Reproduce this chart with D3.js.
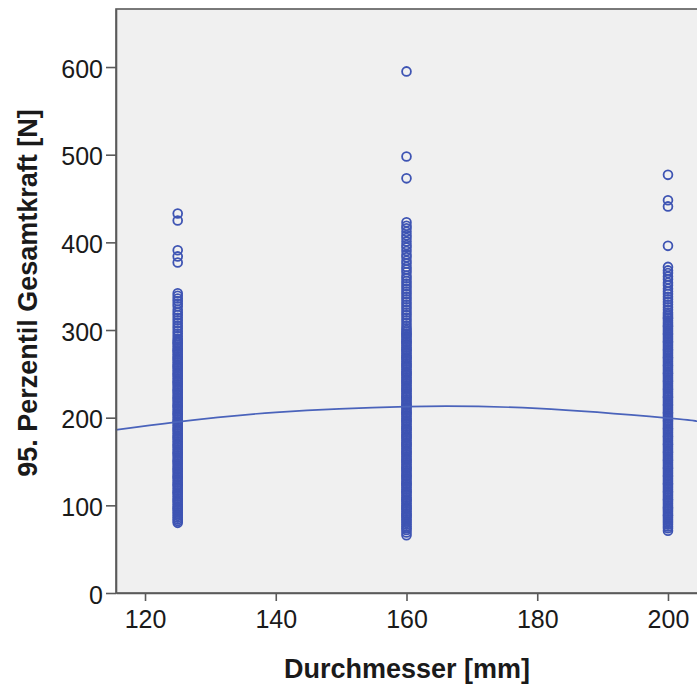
<!DOCTYPE html>
<html>
<head>
<meta charset="utf-8">
<script src="https://cdn.jsdelivr.net/npm/d3@7"></script>
<style>
  body { margin: 0; background: #fff; }
  text { font-family: "Liberation Sans", Arial, sans-serif; fill: #1a1a1a; }
</style>
</head>
<body>
<script>
// values, one list per diameter (top to bottom)
var diameters = [125, 160, 200];
var kraft125 = [433, 425, 391, 384, 377,
  342, 339, 336, 333, 330, 327, 323, 320, 317, 314, 311, 308, 305, 302, 299, 296, 293,
  290, 288, 286, 285, 283, 281, 279, 277, 276, 274, 272, 270, 268, 267, 265, 263, 261, 259, 258, 256,
  254, 252, 250, 249, 247, 245, 243, 241, 240, 238, 236, 234, 232, 231, 229, 227, 225, 223, 222, 220,
  218, 216, 214, 213, 211, 209, 207, 205, 204, 202, 200, 198, 196, 195, 193, 191, 189, 187, 186, 184,
  182, 180, 178, 177, 175, 173, 171, 169, 168, 166, 164, 162, 160, 159, 157, 155, 153, 151, 150, 148,
  146, 144, 142, 141, 139, 137, 135, 133, 132, 130, 128, 126, 124, 123, 121, 119, 117, 115, 114, 112,
  110, 108, 106, 105, 103, 101, 99, 97, 96, 94, 92, 90, 88, 86, 84, 82, 80];
var kraft160 = [595, 498, 473,
  423, 419, 416, 412, 408, 405, 401, 397, 394, 390, 386, 383, 379, 376, 372, 369, 366, 362,
  359, 356, 353, 350, 347, 344, 341, 338, 335, 332, 329, 326, 323, 320, 317, 314, 311, 308, 305, 302,
  300, 298, 296, 295, 293, 291, 289, 287, 286, 284, 282, 280, 278, 277, 275, 273, 271, 269, 268, 266,
  264, 262, 260, 259, 257, 255, 253, 251, 250, 248, 246, 244, 242, 241, 239, 237, 235, 233, 232, 230,
  228, 226, 224, 223, 221, 219, 217, 215, 214, 212, 210, 208, 206, 205, 203, 201, 199, 197, 196, 194,
  192, 190, 188, 187, 185, 183, 181, 179, 178, 176, 174, 172, 170, 169, 167, 165, 163, 161, 160, 158,
  156, 154, 152, 151, 149, 147, 145, 143, 142, 140, 138, 136, 134, 133, 131, 129, 127, 125, 124, 122,
  120, 118, 116, 115, 113, 111, 109, 107, 106, 104, 102, 100, 98, 97, 95, 93, 91, 89, 88, 86,
  84, 82, 80, 78, 76, 74, 72, 69, 66];
var kraft200 = [477, 448, 441, 396,
  372, 368, 365, 361, 358, 354, 351, 347, 344, 341, 338, 335, 332, 329, 326, 323, 320,
  318, 316, 314, 313, 311, 309, 307, 305, 304, 302, 300, 298, 296, 295, 293, 291, 289, 287, 286, 284,
  282, 280, 278, 277, 275, 273, 271, 269, 268, 266, 264, 262, 260, 259, 257, 255, 253, 251, 250, 248,
  246, 244, 242, 241, 239, 237, 235, 233, 232, 230, 228, 226, 224, 223, 221, 219, 217, 215, 214, 212,
  210, 208, 206, 205, 203, 201, 199, 197, 196, 194, 192, 190, 188, 187, 185, 183, 181, 179, 178, 176,
  174, 172, 170, 169, 167, 165, 163, 161, 160, 158, 156, 154, 152, 151, 149, 147, 145, 143, 142, 140,
  138, 136, 134, 133, 131, 129, 127, 125, 124, 122, 120, 118, 116, 115, 113, 111, 109, 107, 106, 104,
  102, 100, 98, 97, 95, 93, 91, 89, 88, 86, 84, 82, 80, 78, 76, 74, 71];
// quadratic fit line, read at a few diameters
var fitX = [115.5, 125, 140, 160, 180, 200, 204.5];
var fitY = [186, 195.2, 206.1, 212.7, 210.5, 199.4, 195.8];
var xTicks = [120, 140, 160, 180, 200];
var yTicks = [0, 100, 200, 300, 400, 500, 600];

var W = 697, H = 686;
var plotL = 116, plotT = 9, plotB = 593, plotR = 697;

var svg = d3.select("body").append("svg")
  .attr("width", W)
  .attr("height", H);

var x = d3.scaleLinear().domain([115.56, 204.44]).range([plotL, plotR]);
var y = d3.scaleLinear().domain([0, 666.2]).range([plotB, plotT]);

// plot background
svg.append("rect")
  .attr("x", plotL).attr("y", plotT)
  .attr("width", plotR - plotL + 5).attr("height", plotB - plotT)
  .attr("fill", "#f0f0f0")
  .attr("stroke", "#5a5a5a")
  .attr("stroke-width", 1.6);

var points = [];
[kraft125, kraft160, kraft200].forEach(function(list, i) {
  list.forEach(function(v) { points.push({ d: diameters[i], v: v }); });
});

svg.append("g").selectAll("circle")
  .data(points)
  .enter()
  .append("circle")
  .attr("cx", function(p) { return x(p.d); })
  .attr("cy", function(p) { return y(p.v); })
  .attr("r", 4.4)
  .attr("fill", "none")
  .attr("stroke", "#3e54b3")
  .attr("stroke-width", 1.8);

var fit = fitX.map(function(d, i) { return [d, fitY[i]]; });
svg.append("path")
  .datum(fit)
  .attr("fill", "none")
  .attr("stroke", "#4a63bb")
  .attr("stroke-width", 1.7)
  .attr("d", d3.line()
    .x(function(p) { return x(p[0]); })
    .y(function(p) { return y(p[1]); })
    .curve(d3.curveNatural));

var xAxis = svg.append("g")
  .attr("transform", "translate(0," + plotB + ")")
  .call(d3.axisBottom(x).tickValues(xTicks).tickSize(8).tickPadding(9).tickSizeOuter(0));
xAxis.select(".domain").attr("stroke", "#5a5a5a").attr("stroke-width", 1.6);
xAxis.selectAll(".tick line").attr("stroke", "#5a5a5a").attr("stroke-width", 1.6);
xAxis.selectAll("text").style("font-size", "25px").attr("fill", "#1a1a1a");

var yAxis = svg.append("g")
  .attr("transform", "translate(" + plotL + ",0)")
  .call(d3.axisLeft(y).tickValues(yTicks).tickSize(10).tickPadding(3).tickSizeOuter(0));
yAxis.select(".domain").attr("stroke", "#5a5a5a").attr("stroke-width", 1.6);
yAxis.selectAll(".tick line").attr("stroke", "#5a5a5a").attr("stroke-width", 1.6);
yAxis.selectAll("text").style("font-size", "25px").attr("fill", "#1a1a1a")
  .attr("dy", "0.4em");

svg.append("text")
  .attr("x", 407).attr("y", 678)
  .attr("text-anchor", "middle")
  .style("font-size", "27px")
  .style("font-weight", "bold")
  .text("Durchmesser [mm]");

svg.append("text")
  .attr("transform", "translate(37,293) rotate(-90)")
  .attr("text-anchor", "middle")
  .style("font-size", "27px")
  .style("font-weight", "bold")
  .text("95. Perzentil Gesamtkraft [N]");
</script>
</body>
</html>
